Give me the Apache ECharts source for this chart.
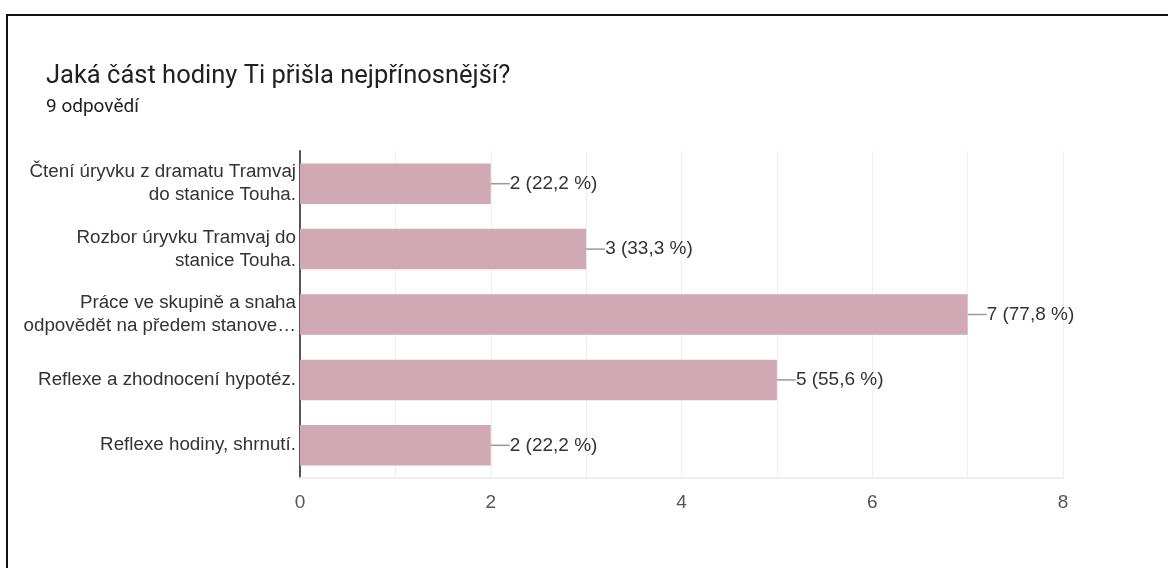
<!DOCTYPE html>
<html>
<head>
<meta charset="utf-8">
<script src="https://cdn.jsdelivr.net/npm/echarts@6/dist/echarts.min.js"></script>
<style>
html,body{margin:0;padding:0;background:#fff;}
#chart{width:1168px;height:568px;}
</style>
</head>
<body>
<div id="chart"></div>
<script>
const titleText = 'Jaká část hodiny Ti přišla nejpřínosnější?';
const subtitleText = '9 odpovědí';
const respondents = 9;
const categories = [
  'Čtení úryvku z dramatu Tramvaj\ndo stanice Touha.',
  'Rozbor úryvku Tramvaj do\nstanice Touha.',
  'Práce ve skupině a snaha\nodpovědět na předem stanove…',
  'Reflexe a zhodnocení hypotéz.',
  'Reflexe hodiny, shrnutí.'
];
const counts = [2, 3, 7, 5, 2];
const xTickLabels = ['0', '', '2', '', '4', '', '6', '', '8'];

const chart = echarts.init(document.getElementById('chart'));
chart.setOption({
  animation: false,
  backgroundColor: '#fff',
  title: [
    {text: titleText, left: 41, top: 59,
     textStyle: {fontFamily: 'Roboto', fontSize: 25.5, fontWeight: 'normal', color: '#202124'}},
    {text: subtitleText, left: 41, top: 93,
     textStyle: {fontFamily: 'Roboto', fontSize: 19, fontWeight: 'normal', color: '#202124'}}
  ],
  graphic: [
    {type: 'rect', shape: {x: 6, y: 14, width: 1162, height: 2}, style: {fill: '#111'}},
    {type: 'rect', shape: {x: 6, y: 14, width: 2, height: 554}, style: {fill: '#111'}}
  ],
  grid: {left: 300, right: 105, top: 151, bottom: 90, containLabel: false},
  xAxis: {
    type: 'value', min: 0, max: 8, interval: 1,
    axisLine: {show: true, lineStyle: {color: '#eeeeee', width: 2}},
    axisTick: {show: false},
    splitLine: {show: true, lineStyle: {color: '#efefef', width: 1}},
    axisLabel: {
      margin: 15, fontFamily: 'Liberation Sans', fontSize: 19, color: '#555',
      formatter: v => xTickLabels[v] || ''
    }
  },
  yAxis: {
    type: 'category', data: categories, inverse: true,
    axisLine: {show: true, lineStyle: {color: '#555', width: 2}},
    axisTick: {show: false},
    axisLabel: {
      margin: 4, fontFamily: 'Liberation Sans', fontSize: 18.8, color: '#333',
      lineHeight: 23, align: 'right', padding: [4, 0, 0, 0]
    }
  },
  series: [{
    type: 'bar',
    data: counts,
    barWidth: '62%',
    itemStyle: {color: '#d0a9b5'},
    label: {
      show: true, position: 'right', distance: 0,
      fontFamily: 'Liberation Sans', fontSize: 19, color: '#333',
      formatter: p => p.value + ' (' + (p.value / respondents * 100).toFixed(1).replace('.', ',') + ' %)'
    },
    labelLayout: {dx: 19},
    labelLine: {show: true, lineStyle: {color: '#999', width: 1.5}}
  }]
});
</script>
</body>
</html>
